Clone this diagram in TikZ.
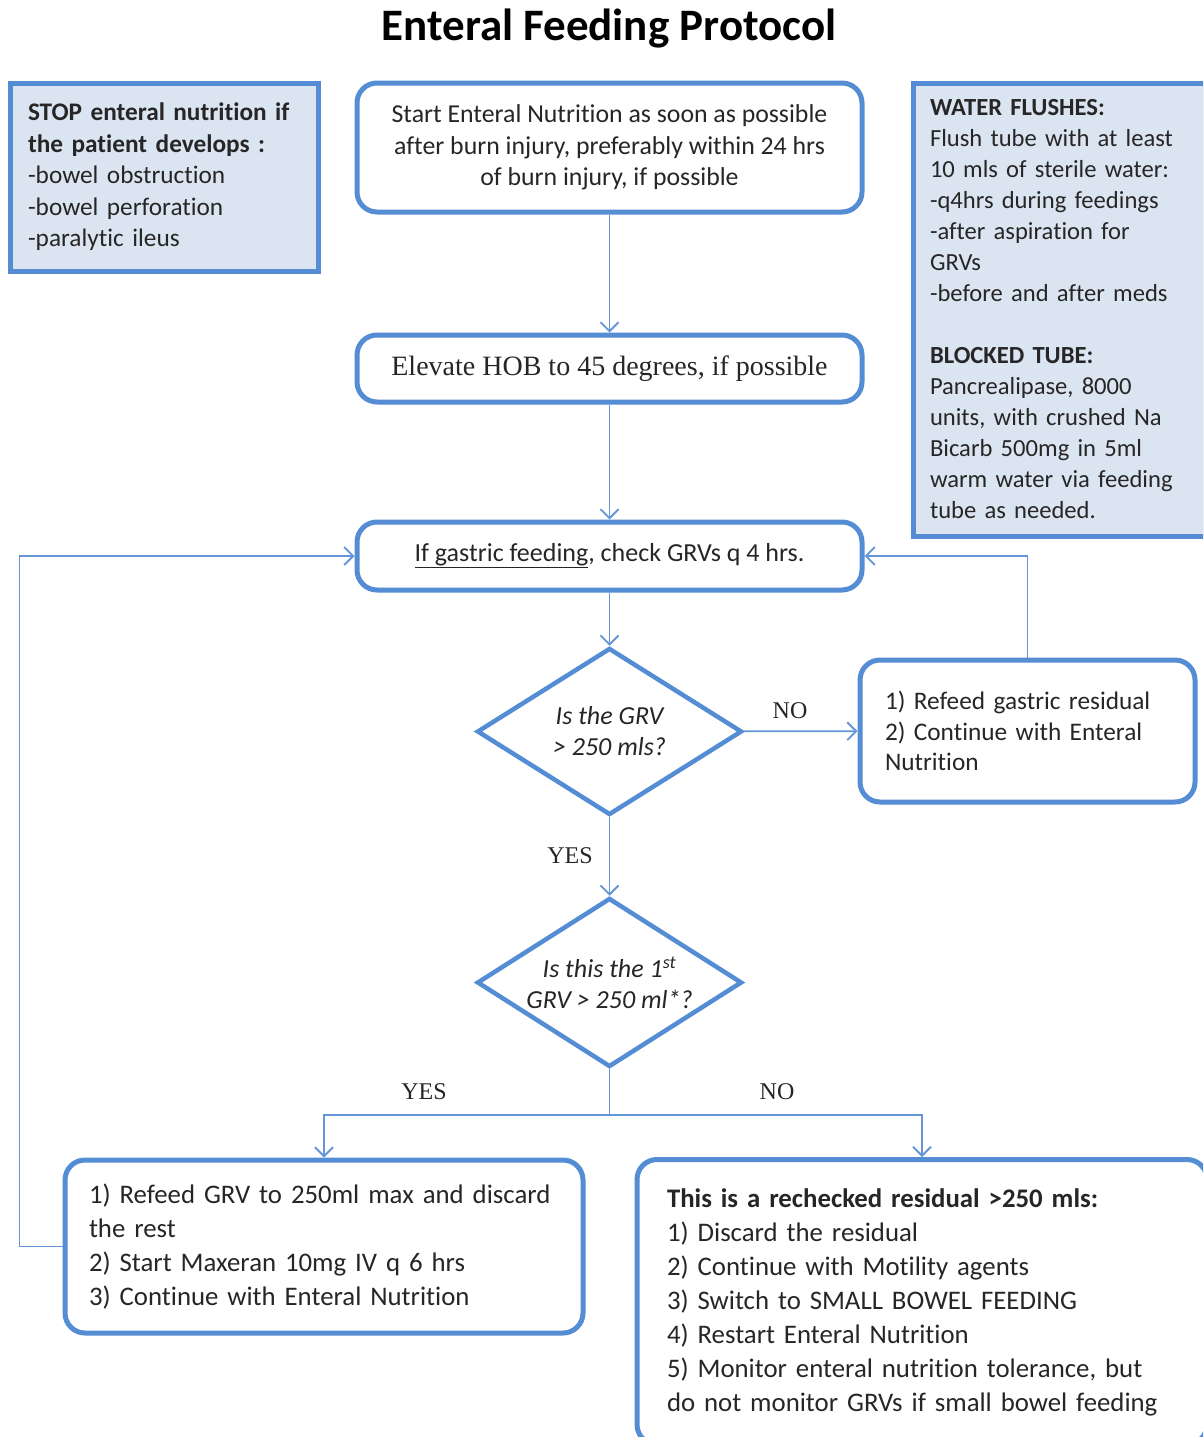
\documentclass[tikz,border=0pt]{standalone}
\usepackage{fontspec}
\setmainfont{Carlito}[Ligatures=NoCommon]
\newfontfamily\serifx{Liberation Serif}
\usetikzlibrary{arrows.meta,shapes.geometric}
\definecolor{bord}{RGB}{84,141,212}
\definecolor{linec}{RGB}{100,150,215}
\definecolor{fillb}{RGB}{219,229,241}
\definecolor{txt}{RGB}{38,38,38}
\begin{document}
\begin{tikzpicture}[x=1pt,y=-1pt,
  box/.style={draw=bord, line width=5pt, rounded corners=20pt, fill=white, text=txt, inner sep=0pt},
  side/.style={draw=bord, line width=5pt, fill=fillb, text=txt, inner sep=0pt},
  dia/.style={draw=bord, line width=4.5pt, diamond, fill=white, inner sep=0pt},
  diatext/.style={text=txt, inner sep=0pt, align=center, font=\itshape\fontsize{26}{31}\selectfont},
  conn/.style={draw=linec, line width=1.8pt, -{Straight Barb[length=9pt,width=18pt,line width=1.8pt]}},
  plain/.style={draw=linec, line width=1.8pt},
  lab/.style={font=\serifx\fontsize{24}{28}\selectfont, text=txt, inner sep=0pt}]
\clip (0,0) rectangle (1203,1437);
\fill[white] (0,0) rectangle (1203,1437);

\node[font=\bfseries\fontsize{45}{48}\selectfont, text=black] (title) at (609,29) {Enteral Feeding Protocol};

\node[side, minimum width=308, minimum height=188, text width=272, align=left,
      font=\fontsize{25.3}{31.5}\selectfont] (stop) at (164,177)
  {\textbf{STOP enteral nutrition if}\\\textbf{the patient develops :}\\-bowel obstruction\\-bowel perforation\\-paralytic ileus\\[7pt]};

\node[side, minimum width=292, minimum height=453, text width=258, align=left,
      font=\fontsize{24.6}{31}\selectfont] (water) at (1059,309.5)
  {\textbf{WATER FLUSHES:}\\Flush tube with at least\\10 mls of sterile water:\\-q4hrs during feedings\\-after aspiration for\\GRVs\\-before and after meds\\[31pt]\textbf{BLOCKED TUBE:}\\Pancrealipase, 8000\\units, with crushed Na\\Bicarb 500mg in 5ml\\warm water via feeding\\tube as needed.};

\node[box, minimum width=505, minimum height=129, align=center,
      font=\fontsize{25.8}{31.5}\selectfont] (start) at (609.5,147.5)
  {Start Enteral Nutrition as soon as possible\\after burn injury, preferably within 24 hrs\\of burn injury, if possible};

\node[box, minimum width=505, minimum height=67, align=center,
      font=\serifx\fontsize{28}{30}\selectfont] (elev) at (609.5,368.5)
  {Elevate HOB to 45 degrees, if possible};

\node[box, minimum width=505, minimum height=68, align=center,
      font=\fontsize{26}{30}\selectfont] (gastric) at (609.5,556)
  {\underline{If gastric feeding}, check GRVs q 4 hrs.};

\node[dia, minimum width=265, minimum height=167] (d1) at (609.5,731.5) {};
\node[diatext] (d1t) at (d1.center) {Is the GRV\\> 250 mls?};

\node[box, minimum width=335, minimum height=142, text width=285, align=left,
      font=\fontsize{25.3}{30.5}\selectfont] (refeed) at (1027.5,731)
  {1) Refeed gastric residual\\2) Continue with Enteral\\Nutrition\\[14pt]};

\node[dia, minimum width=265, minimum height=169] (d2) at (609.5,982.5) {};
\node[diatext] (d2t) at (d2.center) {Is this the 1\textsuperscript{st}\\GRV > 250 ml*?};

\node[box, minimum width=518, minimum height=173, text width=470, align=left,
      font=\fontsize{26.8}{34}\selectfont] (left) at (324,1246.5)
  {1) Refeed GRV to 250ml max and discard\\the rest\\2) Start Maxeran 10mg IV q 6 hrs\\3) Continue with Enteral Nutrition};

\node[box, minimum width=570, minimum height=285, text width=510, align=left,
      font=\fontsize{26.8}{34}\selectfont] (right) at (922,1302)
  {\textbf{This is a rechecked residual >250 mls:}\\1) Discard the residual\\2) Continue with Motility agents\\3) Switch to SMALL BOWEL FEEDING\\4) Restart Enteral Nutrition\\5) Monitor enteral nutrition tolerance, but\\do not monitor GRVs if small bowel feeding\\[8pt]};

\draw[conn] (start) -- (elev);
\draw[conn] (elev) -- (gastric);
\draw[conn] (gastric) -- (d1);
\draw[conn] (d1) -- (refeed);
\node[lab] (lno1) at (790,711) {NO};
\draw[conn] (d1) -- (d2);
\node[lab] (lyes1) at (570,856) {YES};
\draw[plain] (d2.south) -- ++(0,46) coordinate (split);
\draw[conn] (split) -| (left.north);
\draw[conn] (split) -| (right.north);
\node[lab] (lyes2) at (424,1092) {YES};
\node[lab] (lno2) at (777,1092) {NO};
\draw[conn] (refeed.north) |- (gastric.east);
\draw[conn] (left.west) -- ++(-43,0) |- (gastric.west);
\end{tikzpicture}
\end{document}
